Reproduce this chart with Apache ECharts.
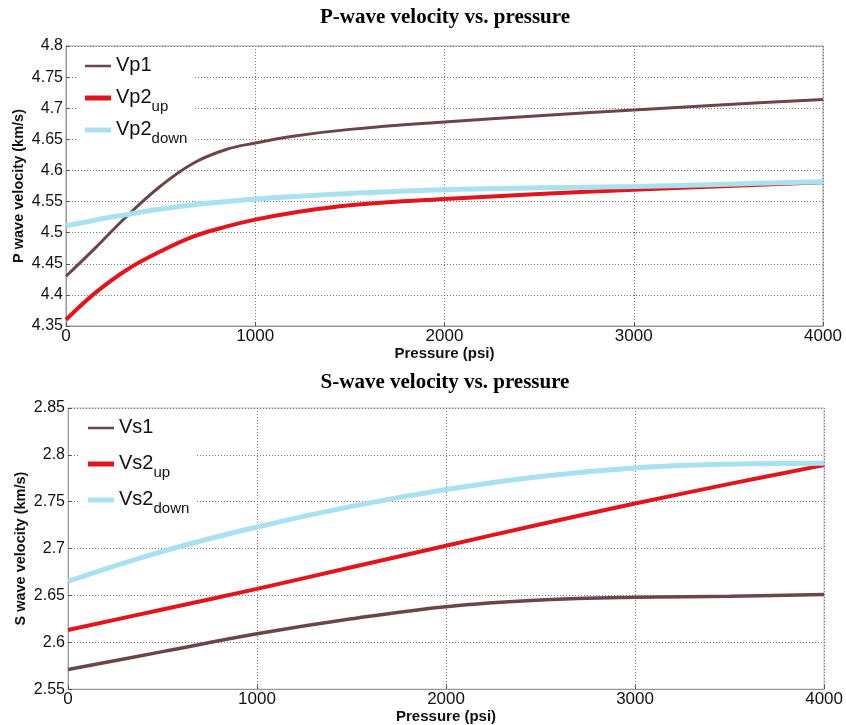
<!DOCTYPE html>
<html><head><meta charset="utf-8">
<script src="https://cdn.jsdelivr.net/npm/echarts@6/dist/echarts.min.js"></script>
<style>html,body{margin:0;padding:0;background:#fff}#c{width:846px;height:725px}</style>
</head><body><div id="c"></div>
<script>
const pressureP = [0, 150, 320, 500, 675, 850, 1000, 1200, 1500, 2000, 2500, 3000, 3500, 4000];
const vp1      = [4.430, 4.474, 4.526, 4.575, 4.612, 4.634, 4.644, 4.655, 4.666, 4.678, 4.688, 4.697, 4.706, 4.714];
const vp2up    = [4.360, 4.402, 4.440, 4.470, 4.494, 4.510, 4.521, 4.532, 4.544, 4.554, 4.562, 4.569, 4.575, 4.581];
const vp2down  = [4.511, 4.520, 4.529, 4.538, 4.545, 4.550, 4.554, 4.558, 4.563, 4.569, 4.572, 4.574, 4.578, 4.582];
const pressureS = [0, 500, 1000, 1500, 2000, 2500, 3000, 3500, 4000];
const vs1      = [2.571, 2.590, 2.609, 2.625, 2.638, 2.645, 2.648, 2.649, 2.651];
const vs2up    = [2.613, 2.635, 2.657, 2.680, 2.703, 2.726, 2.748, 2.769, 2.789];
const vs2down  = [2.665, 2.697, 2.723, 2.745, 2.763, 2.777, 2.786, 2.790, 2.791];

const zip = (xs, ys) => xs.map((x, i) => [x, ys[i]]);
const C_BROWN = '#6b4648', C_RED = '#e3141b', C_BLUE = '#a9e1f0';
const sans = 'Liberation Sans, Arial, sans-serif';
const serif = 'Liberation Serif, Times New Roman, serif';
const ICON_THIN = 'path://M0,0H26V2.5H0Z';
const ICON_THICK = 'path://M0,0H26V5H0Z';

function xAxis(gi) {
  return {
    gridIndex: gi, type: 'value', min: 0, max: 4000, interval: 1000,
    name: 'Pressure (psi)', nameLocation: 'middle', nameGap: 17,
    nameTextStyle: { fontFamily: sans, fontWeight: 'bold', fontSize: 15, color: '#111' },
    axisLine: { lineStyle: { color: '#999' } },
    axisTick: { inside: true, length: 4, lineStyle: { color: '#555' } },
    axisLabel: { fontFamily: sans, fontSize: 17, color: '#111', margin: 2,
      formatter: v => String(v) },
    splitLine: { show: true, lineStyle: { color: '#777', type: [1, 2], width: 1 } }
  };
}
function yAxis(gi, min, max, name) {
  return {
    gridIndex: gi, type: 'value', min: min, max: max, interval: 0.05,
    name: name, nameLocation: 'middle', nameGap: 40, nameMoveOverlap: false,
    nameTextStyle: { fontFamily: sans, fontWeight: 'bold', fontSize: 14.5, color: '#111' },
    axisLine: { lineStyle: { color: '#999' } },
    axisTick: { inside: true, length: 4, lineStyle: { color: '#555' } },
    axisLabel: { fontFamily: sans, fontSize: 16, color: '#111', margin: 3,
      formatter: v => String(+v.toFixed(2)) },
    splitLine: { show: true, lineStyle: { color: '#777', type: [1, 2], width: 1 } }
  };
}
const rich = {
  m: { fontFamily: sans, fontSize: 20, color: '#111', lineHeight: 22, verticalAlign: 'top' },
  s: { fontFamily: sans, fontSize: 15, color: '#111', lineHeight: 15, padding: [12, 0, 0, 0], verticalAlign: 'top' }
};
const legendFmt = n => {
  const m = n.match(/^(V[ps]\d)(up|down)?$/);
  return '{m|' + m[1] + '}{s|' + (m[2] || ' ') + '}';
};
function legend(top, left, names, gap) {
  return {
    orient: 'vertical', left: left, top: top, itemWidth: 26, itemHeight: 10, itemGap: gap,
    backgroundColor: '#fff', padding: [4, 6, 4, 8],
    data: names.map((n, i) => ({ name: n, icon: i === 0 ? ICON_THIN : ICON_THICK })),
    formatter: legendFmt, selectedMode: false,
    textStyle: { rich: rich }
  };
}
function line(name, xi, yi, data, color, w) {
  return { name: name, type: 'line', xAxisIndex: xi, yAxisIndex: yi, data: data,
    smooth: 0.4,
    symbol: 'none', lineStyle: { color: color, width: w }, itemStyle: { color: color } };
}

const chart = echarts.init(document.getElementById('c'), null, { renderer: 'canvas' });
chart.setOption({
  animation: false,
  backgroundColor: '#fff',
  title: [
    { text: 'P-wave velocity vs. pressure', left: 445, textAlign: 'center', top: 7, padding: 0,
      textStyle: { fontFamily: serif, fontWeight: 'bold', fontSize: 21, color: '#000' } },
    { text: 'S-wave velocity vs. pressure', left: 445, textAlign: 'center', top: 372, padding: 0,
      textStyle: { fontFamily: serif, fontWeight: 'bold', fontSize: 21, color: '#000' } }
  ],
  grid: [
    { left: 66, top: 46, width: 757, height: 280, show: true, borderColor: '#999', borderWidth: 1 },
    { left: 68, top: 408, width: 759, height: 283, show: true, borderColor: '#bbb', borderWidth: 1 }
  ],
  xAxis: [xAxis(0), xAxis(1)],
  yAxis: [yAxis(0, 4.35, 4.8, 'P wave velocity (km/s)'), yAxis(1, 2.55, 2.85, 'S wave velocity (km/s)')],
  legend: [
    legend(51, 77, ['Vp1', 'Vp2up', 'Vp2down'], 5),
    legend(413, 80, ['Vs1', 'Vs2up', 'Vs2down'], 9)
  ],
  series: [
    line('Vp1', 0, 0, zip(pressureP, vp1), C_BROWN, 3),
    line('Vp2up', 0, 0, zip(pressureP, vp2up), C_RED, 4),
    line('Vp2down', 0, 0, zip(pressureP, vp2down), C_BLUE, 5),
    line('Vs1', 1, 1, zip(pressureS, vs1), C_BROWN, 3.5),
    line('Vs2up', 1, 1, zip(pressureS, vs2up), C_RED, 4),
    line('Vs2down', 1, 1, zip(pressureS, vs2down), C_BLUE, 5)
  ]
});
</script></body></html>
